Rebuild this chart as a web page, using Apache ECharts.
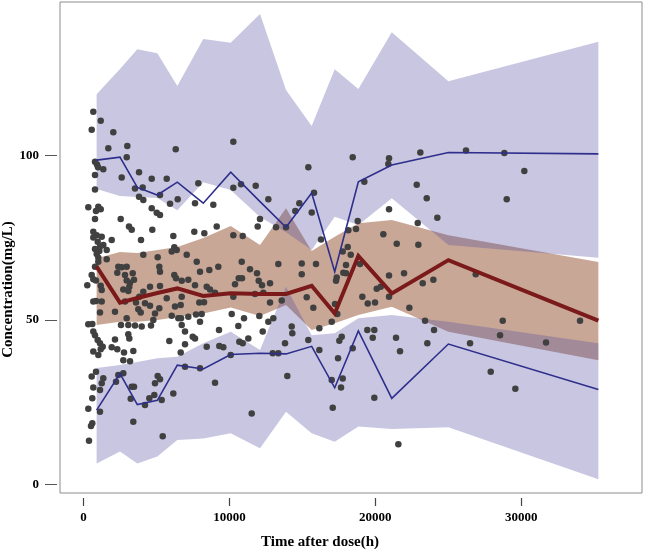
<!DOCTYPE html>
<html>
<head>
<meta charset="utf-8">
<script src="https://cdn.jsdelivr.net/npm/echarts@6/dist/echarts.min.js"></script>
<style>html,body{margin:0;padding:0;background:#fff}#c{width:650px;height:550px}</style>
</head>
<body>
<div id="c"></div>
<script>
// Time bins (h)
const timeBins = [900, 2500, 3690, 5060, 6430, 8210, 10090, 12100, 13880, 15640, 17220, 18840, 21130, 25010, 35290];
// Simulated 95th percentile CI
const p95Upper = [118.6,126.3,132.3,131.1,121.1,135.4,134.3,143.0,119.9,109.0,126.2,120.2,137.5,122.6,134.6];
const p95Lower = [89.8,87.7,87.4,87.1,83.4,91.9,89.5,81.3,76.7,71.3,81.4,78.9,87.0,72.8,68.9];
// Simulated median CI
const medUpper = [68.8,70.7,70.4,71.3,72.2,74.9,78.6,72.8,84.0,71.0,75.3,79.4,80.4,75.8,67.6];
const medLower = [48.5,49.5,49.5,50.0,50.9,52.0,53.8,51.2,54.6,47.0,49.0,51.5,54.0,46.4,37.8];
// Simulated 5th percentile CI
const p05Upper = [35.4,36.3,37.2,38.4,38.8,42.9,46.4,40.9,60.1,45.4,46.0,50.5,51.5,49.5,42.9];
const p05Lower = [6.4,10.0,6.4,8.5,13.5,14.0,15.6,11.0,22.1,15.6,13.0,17.6,16.9,17.4,1.6];
// Observed percentiles
const obsP95 = [98.6,99.5,90.3,88.0,91.9,85.5,94.9,86.0,78.2,88.6,64.7,92.0,97.1,100.9,100.5];
const obsMedian = [66.2,55.3,56.7,58.2,59.6,57.3,58.1,57.9,57.9,60.4,52.0,69.5,58.1,68.2,49.8];
const obsP05 = [22.6,33.7,24.3,25.6,36.3,35.1,39.5,39.9,39.7,42.0,29.4,46.7,26.2,42.7,28.9];
// Observed concentrations [time, conc]
const observed = [
[672,113.3],[1179,110.6],[562,107.8],[2043,107.1],[1700,102.2],[3002,102.9],[6320,101.9],[10269,104.2],[2961,99.5],[15410,96.4],
[18453,99.5],[20942,99.2],[20894,97.4],[23088,100.9],[26220,101.5],[28846,100.8],[30217,95.3],[19249,92.0],[22841,91.1],[23526,87.0],
[29010,86.7],[20942,83.7],[24253,81.1],[22909,79.5],[18796,80.1],[18680,77.7],[18152,77.3],[20551,76.1],[21470,73.2],[22951,72.9],
[18111,72.2],[17768,70.8],[18317,69.8],[17994,66.7],[18954,67.0],[17809,64.4],[17994,64.2],[17357,62.9],[17309,61.9],[20942,63.5],
[21970,64.2],[23979,62.2],[23252,61.2],[26885,63.9],[20099,59.5],[20373,60.1],[19112,57.1],[20942,57.1],[19482,55.0],[19982,55.3],
[17240,54.9],[22334,53.7],[17398,51.8],[17014,49.5],[23410,49.8],[28736,49.8],[34035,49.8],[24027,47.0],[28551,45.4],[17700,44.9],
[17535,43.7],[19454,47.0],[19934,47.0],[19825,44.6],[21422,44.6],[23567,42.9],[26495,42.9],[31704,43.2],[18453,41.4],[21696,40.5],
[17446,38.4],[27914,34.3],[17014,31.8],[17768,32.2],[17652,29.5],[29600,29.1],[19934,26.4],[17083,23.3],[21580,12.2],
[788,98.1],[925,97.3],[994,96.4],[1357,95.8],[788,94.1],[3805,94.9],[2619,93.3],[4675,92.9],[5703,92.9],[7869,91.6],
[3530,90.0],[4058,90.3],[10269,90.2],[10797,91.3],[11804,90.8],[788,89.7],[5244,88.0],[3805,87.5],[4099,86.5],[6457,86.7],
[5930,85.3],[7643,85.5],[8898,85.0],[12668,86.7],[15801,88.7],[14793,85.5],[14519,83.1],[15643,82.7],[329,84.3],[1015,84.4],
[1179,83.7],[857,83.1],[4675,84.0],[5018,82.6],[5244,81.9],[788,80.7],[2550,80.7],[3119,78.4],[3304,77.4],[4716,77.4],
[7595,76.8],[8281,76.4],[9131,78.4],[12099,80.7],[11941,78.4],[13196,78.2],[13881,78.2],[672,76.8],[905,75.8],[672,75.1],
[973,73.8],[1357,72.8],[1131,72.3],[788,71.6],[1083,71.0],[905,70.1],[1933,74.3],[3942,74.3],[6156,75.5],[10269,75.8],
[10913,75.5],[16281,74.5],[6224,72.1],[6389,71.3],[6046,70.8],[4099,69.8],[7074,69.8],[1590,68.5],[5086,69.1],[1015,67.7],
[788,66.2],[7760,67.7],[10845,67.7],[13354,67.0],[14958,67.2],[15938,67.0],[2386,66.2],[2619,66.0],[2961,66.2],[5196,66.2],
[9240,66.2],[11413,65.4],[3373,64.2],[2845,63.7],[2317,64.4],[5244,64.7],[6224,63.7],[8624,65.2],[7986,64.7],[11893,64.2],
[14958,63.9],[562,63.7],[672,62.4],[857,62.0],[260,60.6],[1179,60.4],[1248,59.1],[2961,62.0],[3188,61.3],[3462,62.2],
[3140,60.1],[2728,59.3],[3071,58.8],[4559,60.1],[5244,60.3],[6341,62.7],[6732,61.9],[7184,62.2],[7643,60.6],[8445,60.1],
[10385,60.9],[10639,62.7],[10865,62.7],[12010,61.9],[12236,60.6],[12785,61.2],[4099,58.6],[3825,57.1],[5703,56.6],[6732,57.1],
[8671,59.3],[9014,58.3],[10269,57.1],[11756,57.9],[12325,58.3],[15300,56.9],[12785,55.3],[13586,55.9],[672,55.6],[857,55.8],
[1248,55.6],[2845,55.6],[3599,55.3],[4216,55.1],[4559,54.3],[5196,53.6],[6272,54.1],[6663,54.6],[7938,55.3],[8260,55.4],
[15753,53.7],[1131,52.3],[2159,52.5],[3756,53.3],[3921,52.3],[4901,52.0],[6046,51.3],[6499,50.5],[6684,50.5],[7184,51.0],
[7712,51.7],[8103,51.8],[10159,51.8],[12051,51.2],[12668,49.5],[13011,50.5],[2961,50.5],[4785,50.0],[329,48.7],[603,48.8],
[2571,48.5],[3071,48.5],[3530,48.3],[3990,48.0],[4627,48.3],[6732,48.5],[7986,49.5],[9289,47.0],[10612,48.2],[11002,50.5],
[12284,46.5],[14272,48.0],[14313,46.0],[16164,47.5],[672,46.5],[788,45.4],[6958,46.5],[3071,45.7],[3140,44.4],[2159,44.1],
[973,43.9],[1131,42.9],[1316,41.9],[1179,41.1],[7486,44.9],[7643,44.4],[10680,43.4],[10913,42.9],[11297,44.4],[5882,43.6],
[6958,42.6],[8445,41.9],[9309,42.1],[9583,41.7],[13813,42.9],[15410,43.9],[16164,40.9],[1933,41.7],[2317,41.1],[2776,40.1],
[3414,40.6],[672,40.4],[1015,39.4],[6663,40.1],[2728,37.8],[3188,37.5],[10090,39.4],[12969,39.9],[13354,39.9],[6958,35.8],
[7986,35.3],[857,34.3],[1357,32.3],[2386,33.3],[2728,33.8],[562,32.8],[1248,30.8],[672,29.5],[1131,28.7],[2228,31.2],
[3304,29.7],[3462,29.7],[5086,33.0],[5244,32.0],[4901,30.8],[6156,27.7],[9014,30.9],[13970,33.0],[603,26.2],[3236,26.1],
[4511,26.2],[4853,27.2],[5361,25.7],[4216,24.2],[329,23.0],[1131,22.1],[3414,19.1],[11530,21.6],[603,18.6],[514,17.8],
[5429,14.7],[377,13.3],[1248,75.3],[1590,71.3],[1015,68.9]
];
const xTickValues = [0, 10000, 20000, 30000];
const yTickValues = [0, 50, 100];

const FONT = '"Liberation Serif", "Times New Roman", serif';

function bandSeries(lower, upper, color, z) {
  return {
    type: 'custom',
    z: z,
    silent: true,
    clip: true,
    data: timeBins.map((t, i) => [t, lower[i], upper[i]]),
    encode: { x: 0, y: [1, 2] },
    renderItem: function (params, api) {
      if (params.dataIndex !== 0) return null;
      const pts = [];
      for (let i = 0; i < timeBins.length; i++) pts.push(api.coord([timeBins[i], upper[i]]));
      for (let i = timeBins.length - 1; i >= 0; i--) pts.push(api.coord([timeBins[i], lower[i]]));
      return { type: 'polygon', shape: { points: pts }, style: { fill: color, stroke: null } };
    }
  };
}
function lineSeries(vals, color, width, z) {
  return {
    type: 'line', z: z, silent: true, symbol: 'none',
    data: timeBins.map((t, i) => [t, vals[i]]),
    lineStyle: { color: color, width: width, join: 'miter' }
  };
}

const chart = echarts.init(document.getElementById('c'), null, { renderer: 'canvas' });
chart.setOption({
  animation: false,
  backgroundColor: '#ffffff',
  grid: { left: 60, right: 8, top: 2, bottom: 57, show: true, borderColor: '#8c8c8c', borderWidth: 1, backgroundColor: 'transparent', containLabel: false, outerBoundsMode: 'none' },
  xAxis: {
    type: 'value', min: -1611, max: 38282, offset: 5,
    axisLine: { show: false, onZero: false },
    splitLine: { show: false },
    axisTick: { show: true, inside: false, customValues: xTickValues, length: 8, lineStyle: { color: '#444', width: 1.2 } },
    axisLabel: { customValues: xTickValues, margin: 13, formatter: v => String(v), fontFamily: FONT, fontWeight: 'bold', fontSize: 13, color: '#000' },
    name: 'Time after dose(h)', nameLocation: 'middle', nameGap: 37, nameMoveOverlap: false,
    nameTextStyle: { fontFamily: FONT, fontWeight: 'bold', fontSize: 15, color: '#000', padding: [0, 62, 0, 0] }
  },
  yAxis: {
    type: 'value', min: -2.58, max: 146.66, offset: 3,
    axisLine: { show: false, onZero: false },
    splitLine: { show: false },
    axisTick: { show: true, inside: false, customValues: yTickValues, length: 12, lineStyle: { color: '#555', width: 1 } },
    axisLabel: { customValues: yTickValues, margin: 18, formatter: v => String(v), fontFamily: FONT, fontWeight: 'bold', fontSize: 13, color: '#000' },
    name: 'Concentration(mg/L)', nameLocation: 'middle', nameGap: 41, nameMoveOverlap: false,
    nameTextStyle: { fontFamily: FONT, fontWeight: 'bold', fontSize: 15, color: '#000', padding: [0, 84, 0, 0] }
  },
  series: [
    bandSeries(medLower, medUpper, '#c9a797', 1),
    bandSeries(p95Lower, p95Upper, 'rgba(83,77,158,0.32)', 2),
    bandSeries(p05Lower, p05Upper, 'rgba(83,77,158,0.32)', 2),
    {
      type: 'scatter', z: 3, silent: true, symbol: 'circle', symbolSize: 6.5,
      data: observed,
      itemStyle: { color: '#404040', opacity: 1 }
    },
    lineSeries(obsP95, '#2e2f8c', 1.6, 4),
    lineSeries(obsP05, '#2e2f8c', 1.6, 4),
    lineSeries(obsMedian, '#7a1a1a', 4, 5)
  ]
});
</script>
</body>
</html>
